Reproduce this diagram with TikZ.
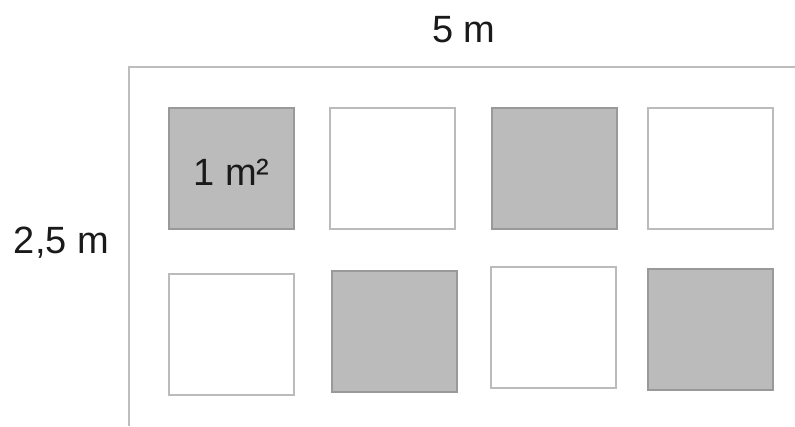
\documentclass[tikz,border=0pt]{standalone}
\usepackage{fontspec}
\setmainfont{Liberation Sans}
\definecolor{framegray}{HTML}{BDBDBD}
\definecolor{wborder}{HTML}{BBBBBB}
\definecolor{gfill}{HTML}{BBBBBB}
\definecolor{gborder}{HTML}{999999}
\definecolor{txt}{HTML}{1A1A1A}
\begin{document}
\begin{tikzpicture}[x=1pt,y=-1pt,
  sq/.style={rectangle,minimum width=125pt,minimum height=121pt,inner sep=0pt,line width=2pt},
  wsq/.style={sq,draw=wborder,fill=white},
  gsq/.style={sq,draw=gborder,fill=gfill},
  lbl/.style={inner sep=0pt,anchor=base,text=txt,font=\fontsize{38}{40}\selectfont}]
\useasboundingbox[fill=white] (0,0) rectangle (795,426);
\coordinate (fbl) at (129,426);
\coordinate (ftl) at (129,67);
\coordinate (ftr) at (795,67);
\draw[framegray,line width=2pt] (fbl) -- (ftl) -- (ftr);
\node[gsq] (s1) at (231,168) {};
\node[wsq] (s2) at (392.5,168) {};
\node[gsq] (s3) at (554.5,168) {};
\node[wsq] (s4) at (710,168) {};
\node[wsq] (s5) at (231,334) {};
\node[gsq] (s6) at (394,331) {};
\node[wsq] (s7) at (553,327.5) {};
\node[gsq] (s8) at (710,329) {};
\node[lbl] (top) at (464,42) {5 m};
\node[lbl] (side) at (61.5,253) {2,5 m};
\node[lbl] (unit) at (231.5,185) {1 m²};
\end{tikzpicture}
\end{document}
